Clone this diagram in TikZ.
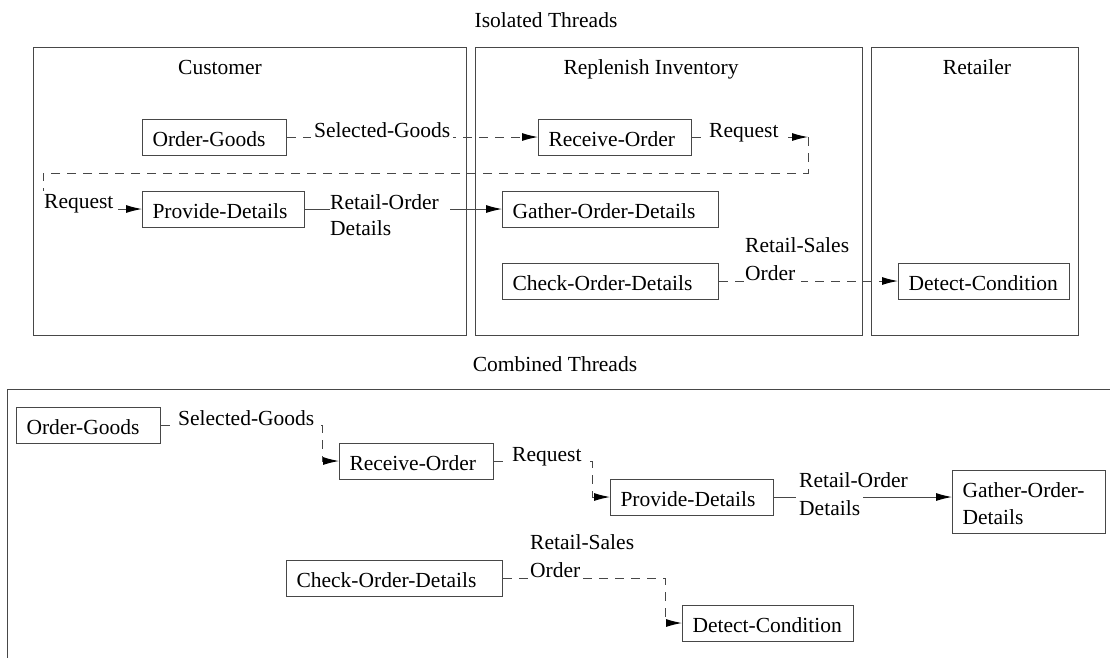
\documentclass[tikz,border=0pt]{standalone}
\usepackage{fontspec}
\setmainfont{Liberation Serif}
\usetikzlibrary{arrows.meta}
\definecolor{linec}{gray}{0.28}
\tikzset{
  every node/.style={font=\fontsize{21.5}{27}\selectfont},
  box/.style={draw=linec, line width=1pt, align=left, inner xsep=10pt, inner ysep=0pt,
    minimum height=36pt, text height=18pt, text depth=0pt, anchor=west},
  lbl/.style={inner xsep=0pt, inner ysep=3pt, anchor=base west},
  lblf/.style={lbl, fill=white, inner xsep=3pt},
  title/.style={anchor=base, inner sep=0pt},
  frame/.style={draw=linec, line width=1pt},
  dsh/.style={draw=linec, line width=1pt, dash pattern=on 9pt off 7pt},
  sol/.style={draw=linec, line width=1pt},
  arr/.style={-{Latex[length=16pt,width=8pt,color=black]}}
}
\begin{document}
\begin{tikzpicture}[x=1pt,y=-1pt]
\useasboundingbox (0,0) rectangle (1110,657);
\clip (0,0) rectangle (1110,657);
% titles
\node[title] (t1) at (546,27) {Isolated Threads};
\node[title] (t2) at (555,371) {Combined Threads};
% frames
\draw[frame] (33,47) rectangle (466,335);
\draw[frame] (475,47) rectangle (862,335);
\draw[frame] (871,47) rectangle (1078,335);
\draw[frame] (7,389) rectangle (1140,700);
\node[title] (s1) at (220,74) {Customer};
\node[title] (s2) at (651,74) {Replenish Inventory};
\node[title] (s3) at (977,74) {Retailer};
% top nodes
\node[box, text width=124pt] (og1) at (142,137) {Order-Goods};
\node[box, text width=133pt] (ro1) at (538,137) {Receive-Order};
\node[box, text width=142pt] (pd1) at (142,209) {Provide-Details};
\node[box, text width=196pt] (ga1) at (502,209) {Gather-Order-Details};
\node[box, text width=196pt] (co1) at (502,281) {Check-Order-Details};
\node[box, text width=151pt] (dc1) at (898,281) {\mbox{Detect-Condition}};
% top connectors
\coordinate (c1) at (808,137);
\coordinate (c2) at (43,173);
\draw[dsh,arr] (og1.east) -- (ro1.west);
\draw[dsh,arr] (ro1.east) -- (c1);
\draw[dsh,arr] (c1) |- (c2) |- (pd1.west);
\draw[sol,arr] (pd1.east) -- (ga1.west);
\draw[dsh,arr] (co1.east) -- (dc1.west);
% top labels
\node[lblf] (l1) at (311,137) {Selected-Goods};
\node[lblf] (l2) at (706,137) {Request};
\node[lblf] (l3) at (41,208) {Request};
\node[lblf, text width=120pt, inner xsep=0pt] (l4) at (330,209) {Retail-Order};
\node[lbl] (l4b) at (330,235) {Details};
\node[lbl] (l5) at (745,252) {Retail-Sales};
\node[lblf, text width=56pt, inner xsep=0pt] (l5b) at (745,280) {Order};
% bottom nodes
\node[box, text width=124pt] (og2) at (16,425) {Order-Goods};
\node[box, text width=134pt] (ro2) at (339,461) {Receive-Order};
\node[box, text width=143pt] (pd2) at (610,497) {Provide-Details};
\node[box, text width=133pt, minimum height=63pt, text height=18pt, text depth=27pt] (ga2) at (952,501.5) {Gather-Order-\\Details};
\node[box, text width=196pt] (co2) at (286,578) {Check-Order-Details};
\node[box, text width=151pt] (dc2) at (682,623) {\mbox{Detect-Condition}};
% bottom connectors
\coordinate (d1) at (322,425);
\coordinate (d2) at (592,461);
\coordinate (d3) at (665,578);
\draw[dsh,arr] (og2.east) -- (d1) |- (ro2.west);
\draw[dsh,arr] (ro2.east) -- (d2) |- (pd2.west);
\draw[sol,arr] (pd2.east) -- (pd2.east -| ga2.west);
\draw[dsh,arr] (co2.east) -- (d3) |- (dc2.west);
% bottom labels
\node[lblf] (m1) at (175,425) {Selected-Goods};
\node[lblf] (m2) at (509,461) {Request};
\node[lblf, inner ysep=5pt] (m3) at (796,487) {Retail-Order};
\node[lblf, inner ysep=5pt] (m3b) at (796,515) {Details};
\node[lbl] (m4) at (530,549) {Retail-Sales};
\node[lblf, text width=52pt, inner xsep=0pt] (m4b) at (530,577) {Order};
\end{tikzpicture}
\end{document}
